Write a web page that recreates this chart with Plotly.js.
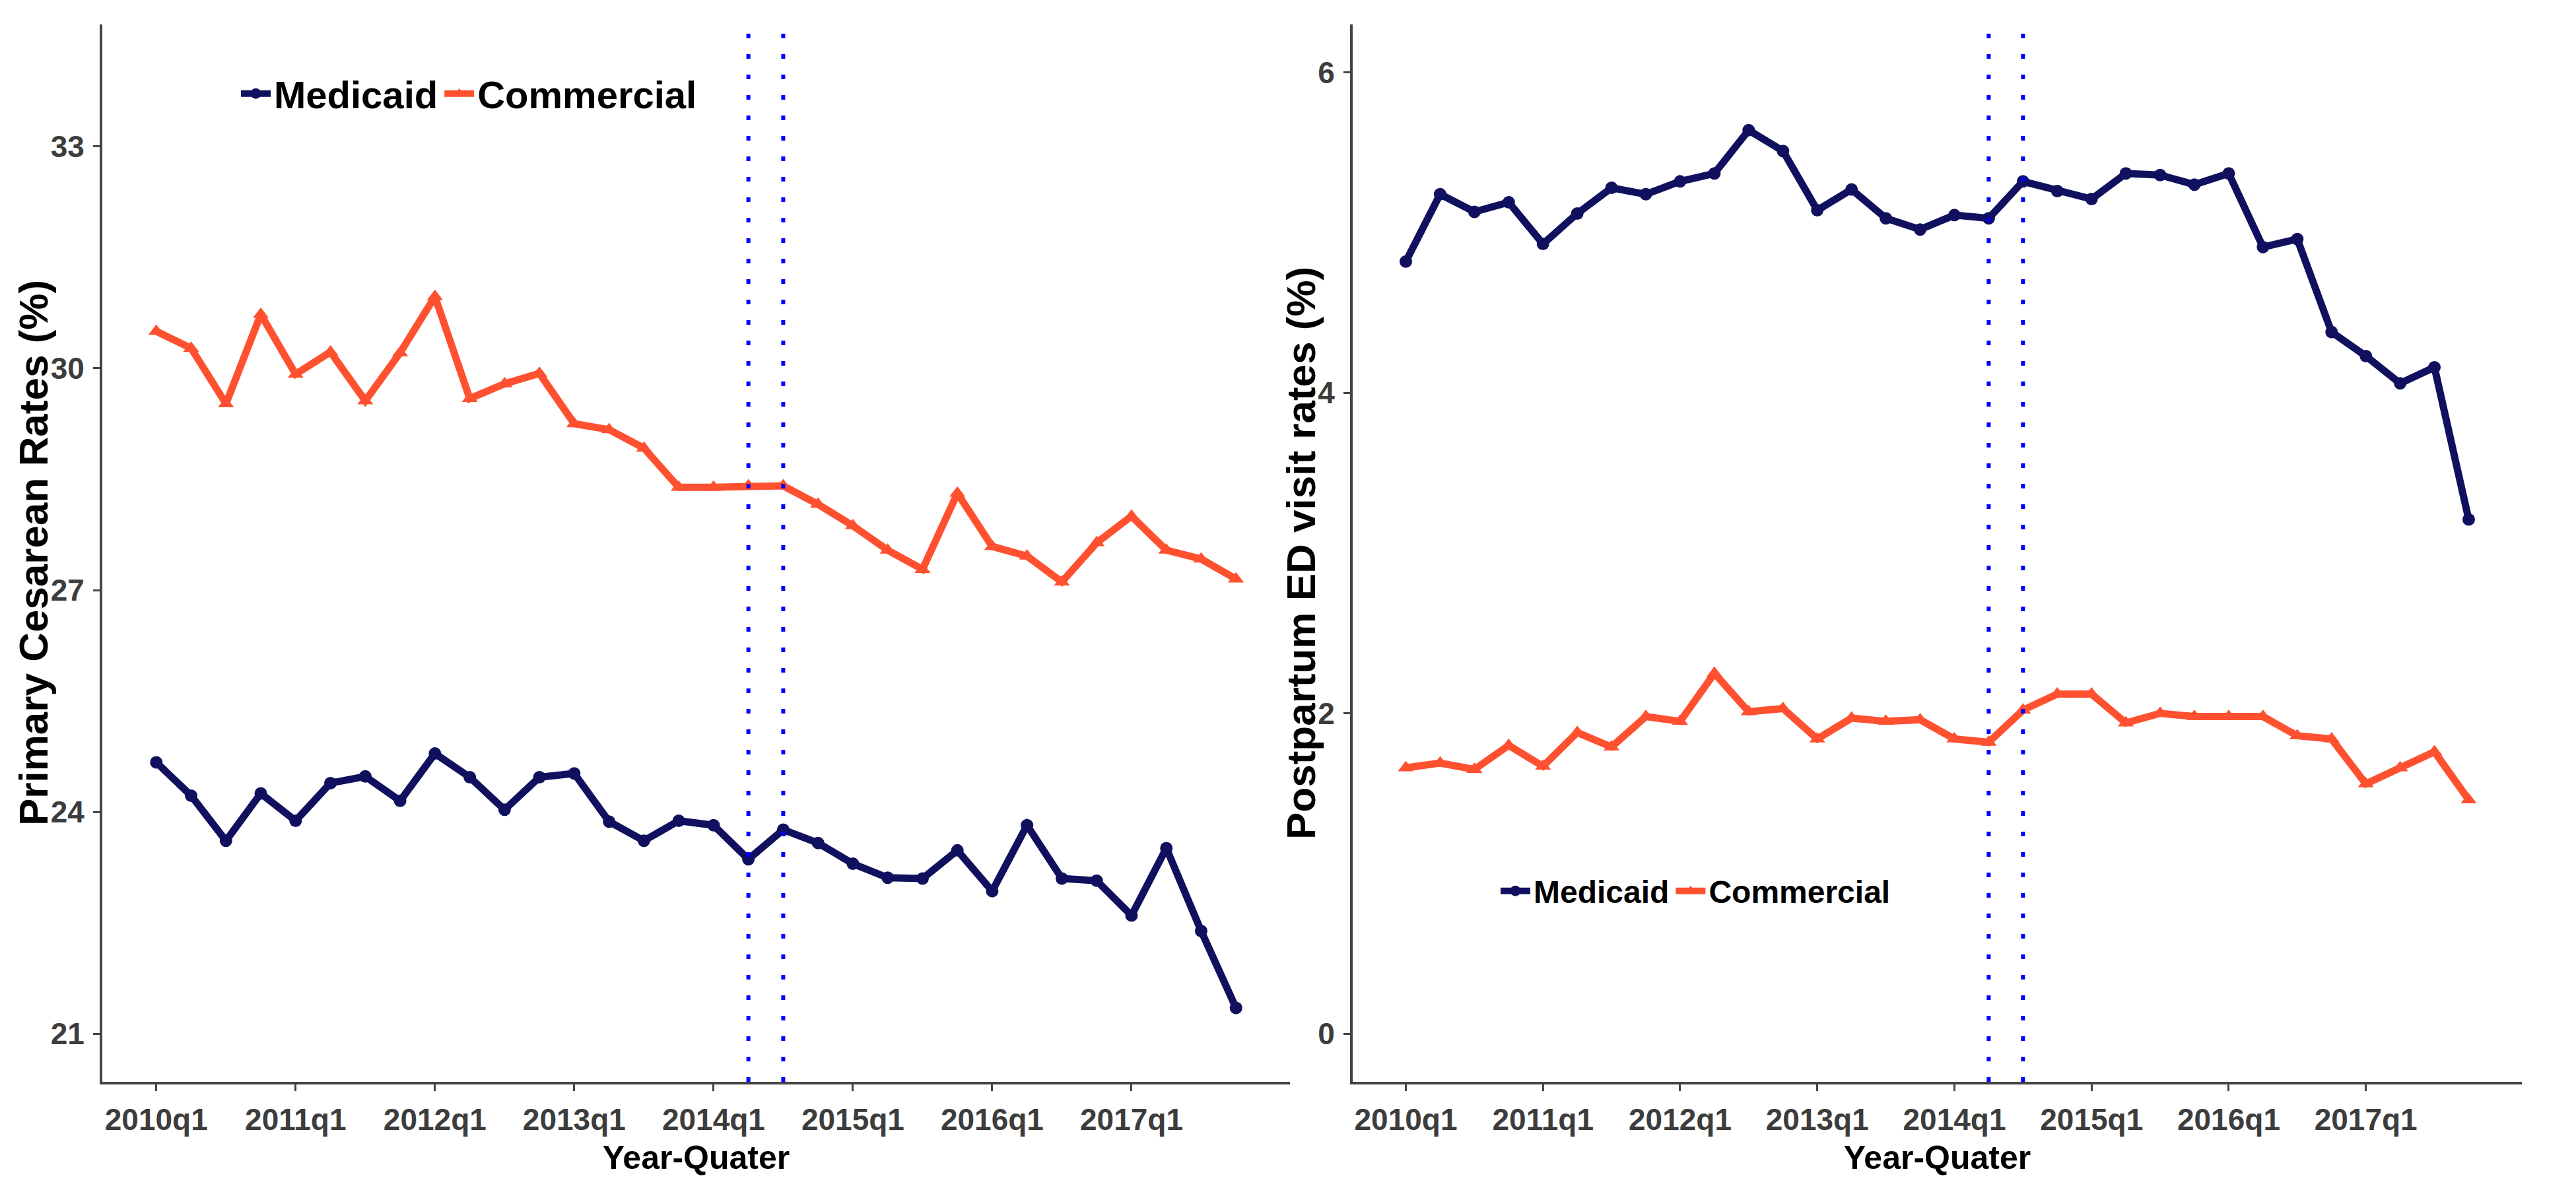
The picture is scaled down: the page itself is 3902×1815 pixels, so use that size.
<!DOCTYPE html>
<html>
<head>
<meta charset="utf-8">
<script src="https://cdn.plot.ly/plotly-3.0.1.min.js"></script>
<style>html,body{margin:0;padding:0;background:#fff;}#chart{width:3902px;height:1815px;}</style>
</head>
<body>
<div id="chart"></div>
<script>
// ---- data ----
const quarters = ['2010q1','2010q2','2010q3','2010q4','2011q1','2011q2','2011q3','2011q4',
                  '2012q1','2012q2','2012q3','2012q4','2013q1','2013q2','2013q3','2013q4',
                  '2014q1','2014q2','2014q3','2014q4','2015q1','2015q2','2015q3','2015q4',
                  '2016q1','2016q2','2016q3','2016q4','2017q1','2017q2','2017q3','2017q4'];
const tickLabels = ['2010q1','2011q1','2012q1','2013q1','2014q1','2015q1','2016q1','2017q1'];
const policyQuarters = ['2014q2','2014q3'];

const cesMedicaid = [24.67,24.22,23.61,24.25,23.88,24.39,24.48,24.15,
                     24.79,24.47,24.03,24.47,24.52,23.87,23.61,23.88,
                     23.82,23.36,23.76,23.58,23.30,23.11,23.10,23.48,
                     22.93,23.82,23.10,23.07,22.60,23.51,22.39,21.35];
const cesCommercial = [30.50,30.27,29.52,30.73,29.92,30.22,29.56,30.21,
                       30.97,29.59,29.79,29.93,29.25,29.17,28.92,28.39,
                       28.39,28.41,28.41,28.16,27.87,27.54,27.28,28.31,
                       27.59,27.46,27.11,27.64,28.00,27.54,27.42,27.15];
const edMedicaid = [4.82,5.24,5.13,5.19,4.93,5.12,5.28,5.24,
                    5.32,5.37,5.64,5.51,5.14,5.27,5.09,5.02,
                    5.11,5.09,5.32,5.26,5.21,5.37,5.36,5.30,
                    5.37,4.91,4.96,4.38,4.23,4.06,4.16,3.21];
const edCommercial = [1.66,1.69,1.65,1.80,1.67,1.88,1.79,1.98,
                      1.95,2.25,2.01,2.03,1.84,1.97,1.95,1.96,
                      1.84,1.82,2.02,2.12,2.12,1.94,2.00,1.98,
                      1.98,1.98,1.86,1.84,1.56,1.66,1.76,1.46];
const seriesNames = ['Medicaid','Commercial'];
const leftTicks = [21,24,27,30,33];
const rightTicks = [0,2,4,6];
const yTitles = ['Primary Cesarean Rates (%)', 'Postpartum ED visit rates (%)'];
const xTitle = 'Year-Quater';

// ---- styles ----
const W = 3902, H = 1815;
const NAVY = '#10105f', ORANGE = '#ff5030', AXIS = '#444444';
const SANS = "'Liberation Sans',Arial,sans-serif";

function mk(xa, ya, name, y, color, symbol, size, legend) {
  return {x: quarters, y: y, xaxis: xa, yaxis: ya, name: name, legend: legend,
          type: 'scatter', mode: 'lines+markers',
          line: {color: color, width: 11},
          marker: {color: color, symbol: symbol, size: size}};
}
const traces = [
  mk('x','y', seriesNames[0], cesMedicaid, NAVY, 'circle', 19, 'legend'),
  mk('x','y', seriesNames[1], cesCommercial, ORANGE, 'triangle-up', 21, 'legend'),
  mk('x2','y2', seriesNames[0], edMedicaid, NAVY, 'circle', 19, 'legend2'),
  mk('x2','y2', seriesNames[1], edCommercial, ORANGE, 'triangle-up', 21, 'legend2')
];

const yDom = [1 - 1639/H, 1 - 37/H];
function xAxis(dom) {
  return {domain: dom, type: 'category', categoryorder: 'array', categoryarray: quarters,
          range: [-1.55, quarters.length - 1 + 1.55], autorange: false,
          tickmode: 'array', tickvals: tickLabels, ticktext: tickLabels, tickangle: 0,
          showline: true, linecolor: AXIS, linewidth: 4, mirror: false,
          ticks: 'outside', ticklen: 10, tickwidth: 3, tickcolor: AXIS,
          showgrid: false, zeroline: false,
          tickfont: {family: SANS, size: 46, color: '#3d3d3d', weight: 'bold'},
          ticklabelstandoff: 4,
          title: {text: xTitle, standoff: 16,
                  font: {family: SANS, size: 50, color: '#000', weight: 'bold'}}};
}
function yAxis(range, ticks, anchor) {
  return {domain: yDom, anchor: anchor, range: range, autorange: false,
          tickmode: 'array', tickvals: ticks, ticktext: ticks.map(String),
          showline: true, linecolor: AXIS, linewidth: 4,
          ticks: 'outside', ticklen: 10, tickwidth: 3, tickcolor: AXIS,
          showgrid: false, zeroline: false,
          tickfont: {family: SANS, size: 46, color: '#3d3d3d', weight: 'bold'},
          ticklabelstandoff: 4};
}

const shapes = [];
[['x','y'],['x2','y2']].forEach(function(p){
  policyQuarters.forEach(function(q){
    const i = quarters.indexOf(q);
    shapes.push({type: 'line', xref: p[0], yref: p[1] + ' domain', x0: i, x1: i, y0: 0, y1: 1,
                 line: {color: '#0000ff', width: 6, dash: '7px,24px'}, layer: 'above'});
  });
});

const yMid = 1 - (37 + 1639) / 2 / H;
const annotations = [
  {text: yTitles[0], xref: 'paper', yref: 'paper', x: 50/W, y: yMid, xanchor: 'center', yanchor: 'middle',
   textangle: -90, showarrow: false, font: {family: SANS, size: 62, color: '#000', weight: 'bold'}},
  {text: yTitles[1], xref: 'paper', yref: 'paper', x: 1970/W, y: yMid, xanchor: 'center', yanchor: 'middle',
   textangle: -90, showarrow: false, font: {family: SANS, size: 62, color: '#000', weight: 'bold'}}
];

const layout = {
  width: W, height: H,
  margin: {l: 0, r: 0, t: 0, b: 0},
  paper_bgcolor: '#fff', plot_bgcolor: '#fff',
  showlegend: true,
  xaxis: Object.assign(xAxis([155/W, 1954/W]), {anchor: 'y'}),
  yaxis: yAxis([20.35, 34.65], leftTicks, 'x'),
  xaxis2: Object.assign(xAxis([2049/W, 3820/W]), {anchor: 'y2'}),
  yaxis2: yAxis([-0.3, 6.3], rightTicks, 'x2'),
  legend: {orientation: 'h', x: 360/W, xanchor: 'left', y: 1 - 142/H, yanchor: 'middle',
           font: {family: SANS, size: 58, color: '#000', weight: 'bold'},
           bgcolor: 'rgba(0,0,0,0)', itemwidth: 45, traceorder: 'normal'},
  legend2: {orientation: 'h', x: 2268/W, xanchor: 'left', y: 1 - 1350/H, yanchor: 'middle',
            font: {family: SANS, size: 48, color: '#000', weight: 'bold'},
            bgcolor: 'rgba(0,0,0,0)', itemwidth: 45, traceorder: 'normal'},
  shapes: shapes,
  annotations: annotations
};

Plotly.newPlot('chart', traces, layout, {displayModeBar: false, staticPlot: true});
</script>
</body>
</html>
